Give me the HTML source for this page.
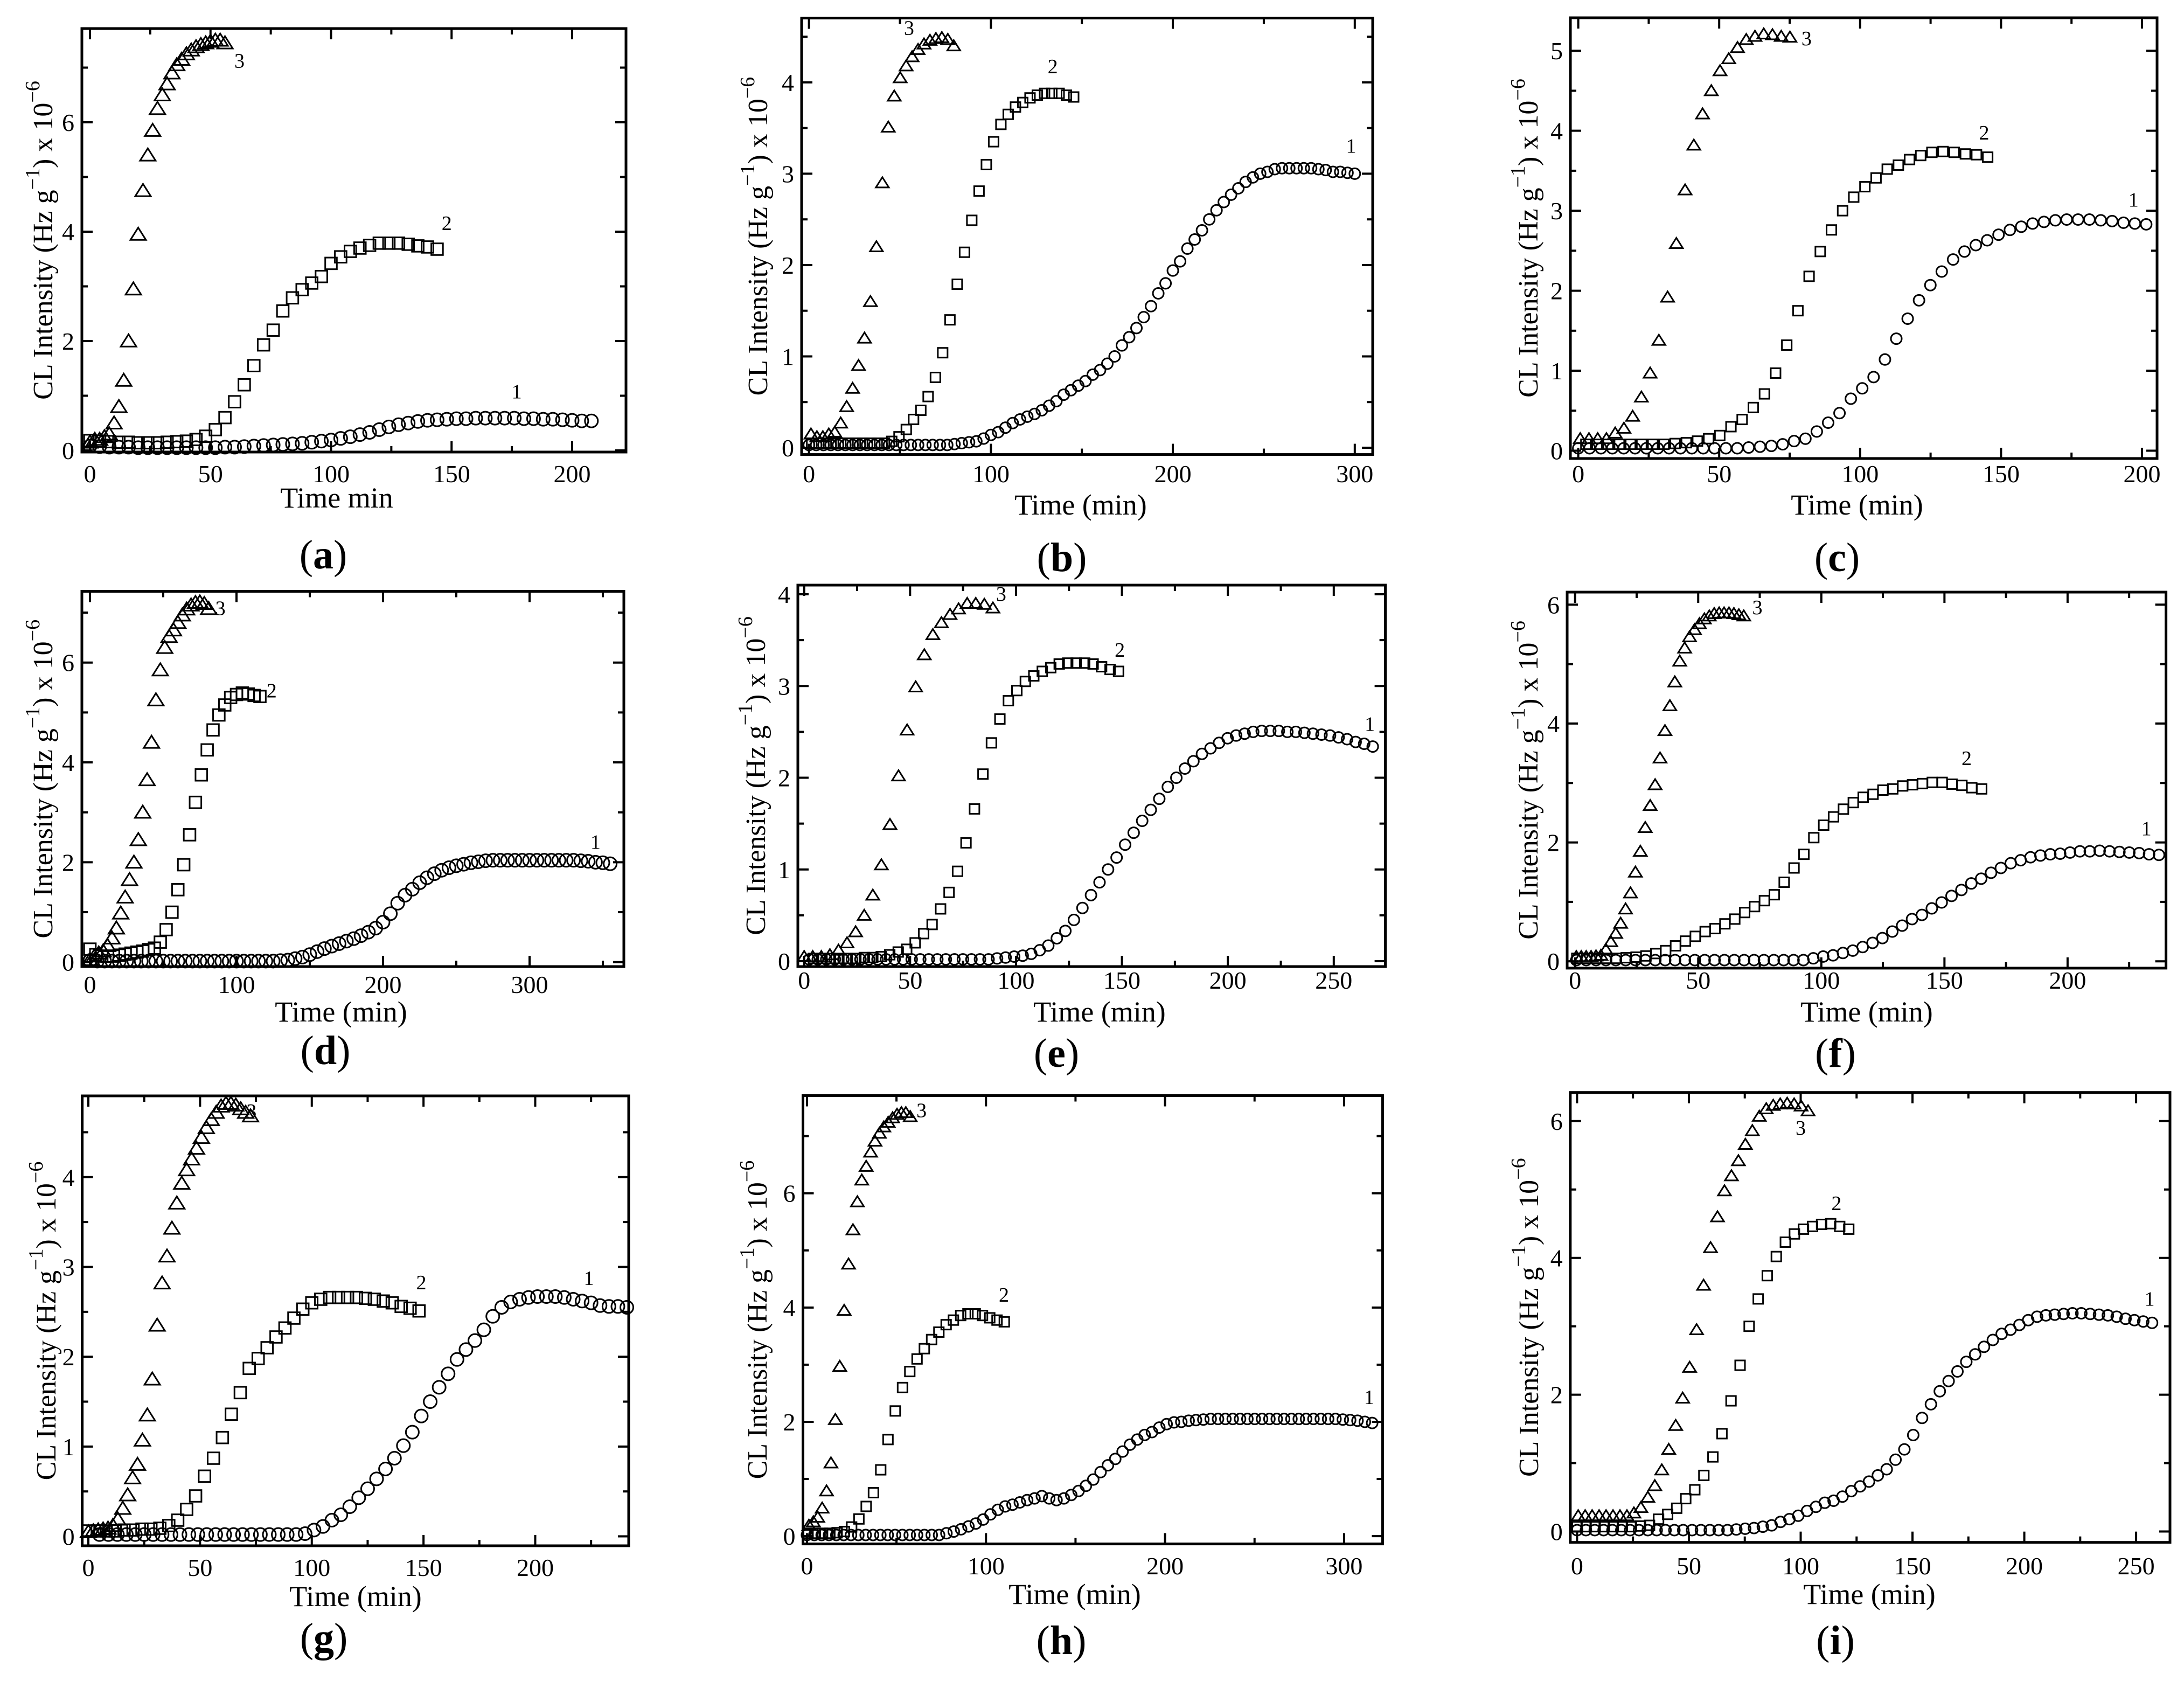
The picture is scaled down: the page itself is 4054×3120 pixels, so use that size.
<!DOCTYPE html>
<html><head><meta charset="utf-8"><style>
html,body{margin:0;padding:0;background:#fff;}
svg{display:block;}
text{font-family:"Liberation Serif",serif;fill:#000;}
</style></head>
<body>
<svg id="fig" width="4054" height="3120" viewBox="0 0 4054 3120" xmlns="http://www.w3.org/2000/svg">
<rect x="0" y="0" width="4054" height="3120" fill="#fff"/>
</svg>
<script>
// ---------- DATA (t = start + i*step, values in Hz g^-1 x 10^-6) ----------
// Panel a
const a3Start=0, a3Step=2;
const a3Values=[0.15,0.2,0.2,0.25,0.3,0.5,0.8,1.28,2.0,2.95,3.95,4.75,5.4,5.85,6.25,6.5,6.7,6.9,7.05,7.15,7.25,7.32,7.38,7.42,7.45,7.48,7.5,7.5,7.45];
const a2Start=0, a2Step=4;
const a2Values=[0.18,0.17,0.16,0.15,0.15,0.14,0.14,0.14,0.15,0.16,0.17,0.2,0.26,0.38,0.6,0.89,1.2,1.55,1.93,2.2,2.55,2.79,2.94,3.06,3.18,3.42,3.54,3.64,3.7,3.75,3.79,3.79,3.79,3.77,3.74,3.72,3.68];
const a1Start=0, a1Step=4;
const a1Values=[0.08,0.07,0.06,0.06,0.06,0.05,0.05,0.05,0.05,0.05,0.05,0.05,0.05,0.05,0.06,0.06,0.07,0.08,0.09,0.1,0.11,0.12,0.13,0.15,0.17,0.19,0.22,0.25,0.29,0.33,0.38,0.43,0.47,0.5,0.53,0.55,0.56,0.57,0.58,0.58,0.59,0.59,0.59,0.59,0.59,0.58,0.58,0.57,0.57,0.56,0.55,0.54,0.54];
// Panel b
const b3Start=1.1, b3Step=3.27;
const b3Values=[0.15,0.12,0.12,0.15,0.17,0.27,0.45,0.65,0.9,1.2,1.6,2.2,2.9,3.51,3.85,4.05,4.18,4.28,4.36,4.42,4.46,4.48,4.49,4.47,4.4];
const b2Start=1.5, b2Step=4;
const b2Values=[0.05,0.05,0.05,0.05,0.05,0.05,0.05,0.05,0.05,0.05,0.05,0.07,0.12,0.2,0.31,0.41,0.56,0.77,1.04,1.4,1.79,2.14,2.49,2.81,3.1,3.35,3.54,3.65,3.73,3.78,3.83,3.86,3.88,3.88,3.88,3.86,3.84];
const b1Start=0, b1Step=4;
const b1Values=[0.03,0.03,0.03,0.03,0.03,0.03,0.03,0.03,0.03,0.03,0.03,0.03,0.03,0.03,0.03,0.03,0.03,0.03,0.03,0.03,0.04,0.05,0.06,0.07,0.1,0.14,0.17,0.22,0.27,0.31,0.34,0.37,0.41,0.46,0.51,0.58,0.63,0.68,0.73,0.8,0.85,0.92,1.0,1.12,1.21,1.31,1.43,1.55,1.69,1.8,1.94,2.04,2.18,2.28,2.38,2.5,2.6,2.69,2.77,2.84,2.91,2.96,3.0,3.02,3.05,3.06,3.06,3.06,3.06,3.06,3.05,3.04,3.02,3.02,3.01,3.0];
// Panel c
const c3Start=0.7, c3Step=3.1;
const c3Values=[0.15,0.15,0.15,0.15,0.22,0.28,0.43,0.67,0.97,1.38,1.92,2.59,3.26,3.82,4.21,4.5,4.75,4.9,5.04,5.14,5.18,5.21,5.2,5.18,5.17];
const c2Start=2.7, c2Step=3.96;
const c2Values=[0.08,0.08,0.08,0.08,0.08,0.08,0.08,0.08,0.09,0.1,0.12,0.15,0.19,0.3,0.39,0.54,0.71,0.97,1.32,1.75,2.18,2.49,2.76,3.0,3.17,3.3,3.41,3.52,3.57,3.64,3.69,3.73,3.74,3.73,3.71,3.7,3.67];
const c1Start=0, c1Step=4.03;
const c1Values=[0.03,0.03,0.03,0.03,0.03,0.03,0.03,0.03,0.03,0.03,0.03,0.03,0.03,0.03,0.03,0.04,0.05,0.06,0.08,0.12,0.15,0.24,0.35,0.47,0.65,0.78,0.92,1.14,1.4,1.65,1.88,2.07,2.24,2.39,2.49,2.57,2.63,2.7,2.76,2.8,2.84,2.86,2.88,2.89,2.89,2.89,2.88,2.87,2.85,2.84,2.83];
// Panel d
const d3Start=0, d3Step=3;
const d3Values=[0.05,0.12,0.18,0.22,0.33,0.48,0.68,0.98,1.3,1.65,2.0,2.45,3.0,3.65,4.4,5.25,5.85,6.3,6.52,6.65,6.8,6.95,7.07,7.15,7.2,7.21,7.18,7.08];
const d2Start=0, d2Step=4;
const d2Values=[0.26,0.15,0.12,0.12,0.12,0.14,0.16,0.18,0.2,0.22,0.25,0.28,0.4,0.65,1.0,1.45,1.95,2.55,3.2,3.75,4.25,4.65,4.95,5.15,5.3,5.36,5.39,5.37,5.34,5.32];
const d1Start=0, d1Step=5;
const d1Values=[0.03,0.02,0.02,0.02,0.02,0.02,0.02,0.02,0.02,0.02,0.02,0.02,0.02,0.02,0.02,0.02,0.02,0.02,0.02,0.02,0.02,0.02,0.02,0.02,0.02,0.02,0.03,0.04,0.07,0.1,0.15,0.21,0.27,0.32,0.37,0.42,0.47,0.53,0.6,0.68,0.8,0.97,1.18,1.34,1.46,1.59,1.69,1.77,1.84,1.89,1.93,1.96,1.99,2.01,2.03,2.04,2.04,2.04,2.04,2.04,2.04,2.04,2.04,2.04,2.04,2.04,2.04,2.03,2.02,2.0,1.99,1.97];
// Panel e
const e3Start=0, e3Step=4.05;
const e3Values=[0.05,0.05,0.05,0.07,0.12,0.2,0.32,0.5,0.72,1.05,1.49,2.02,2.52,2.99,3.34,3.56,3.69,3.78,3.84,3.9,3.9,3.89,3.85];
const e2Start=4.4, e2Step=4;
const e2Values=[0.03,0.03,0.03,0.03,0.03,0.03,0.04,0.04,0.05,0.07,0.1,0.13,0.2,0.3,0.4,0.57,0.75,0.98,1.29,1.66,2.04,2.38,2.64,2.84,2.95,3.05,3.11,3.16,3.2,3.24,3.25,3.25,3.25,3.24,3.21,3.18,3.16];
const e1Start=2.4, e1Step=4.03;
const e1Values=[0.02,0.02,0.02,0.02,0.02,0.02,0.02,0.02,0.02,0.02,0.02,0.02,0.02,0.02,0.02,0.02,0.02,0.02,0.02,0.02,0.02,0.02,0.03,0.04,0.05,0.06,0.08,0.12,0.17,0.25,0.33,0.45,0.58,0.72,0.86,1.0,1.13,1.27,1.4,1.53,1.65,1.77,1.9,2.0,2.1,2.18,2.26,2.32,2.38,2.43,2.46,2.48,2.5,2.51,2.51,2.51,2.5,2.5,2.49,2.48,2.47,2.46,2.44,2.42,2.39,2.37,2.34];
// Panel f
const f3Start=0.5, f3Step=2.0;
const f3Values=[0.08,0.08,0.08,0.08,0.09,0.1,0.2,0.33,0.47,0.64,0.88,1.15,1.5,1.85,2.25,2.62,2.97,3.42,3.88,4.3,4.7,5.05,5.27,5.46,5.58,5.68,5.76,5.81,5.85,5.86,5.86,5.86,5.85,5.83,5.81];
const f2Start=0.7, f2Step=4.01;
const f2Values=[0.05,0.05,0.05,0.05,0.05,0.06,0.07,0.09,0.13,0.18,0.26,0.34,0.42,0.5,0.55,0.63,0.71,0.82,0.92,1.02,1.12,1.33,1.57,1.8,2.08,2.29,2.43,2.56,2.67,2.76,2.81,2.88,2.9,2.95,2.97,2.99,3.01,3.01,2.98,2.96,2.92,2.9];
const f1Start=0.5, f1Step=4.01;
const f1Values=[0.02,0.02,0.02,0.02,0.02,0.02,0.02,0.02,0.02,0.02,0.02,0.02,0.02,0.02,0.02,0.02,0.02,0.02,0.02,0.02,0.02,0.02,0.02,0.02,0.05,0.08,0.1,0.14,0.18,0.24,0.31,0.39,0.5,0.6,0.71,0.78,0.89,0.99,1.1,1.2,1.31,1.39,1.49,1.57,1.65,1.7,1.75,1.78,1.8,1.81,1.83,1.85,1.85,1.86,1.85,1.84,1.83,1.82,1.8,1.79];
// Panel g
const g3Start=0, g3Step=2.2;
const g3Values=[0.05,0.06,0.07,0.08,0.09,0.12,0.19,0.31,0.46,0.65,0.8,1.07,1.35,1.75,2.35,2.82,3.12,3.43,3.71,3.93,4.08,4.2,4.32,4.44,4.55,4.64,4.72,4.79,4.82,4.82,4.8,4.76,4.72,4.68];
const g2Start=0, g2Step=4;
const g2Values=[0.06,0.06,0.06,0.06,0.07,0.07,0.08,0.08,0.09,0.12,0.18,0.3,0.45,0.67,0.87,1.1,1.36,1.6,1.87,1.98,2.1,2.22,2.32,2.43,2.53,2.6,2.64,2.66,2.66,2.66,2.66,2.65,2.64,2.62,2.6,2.56,2.54,2.51];
const g1Start=5, g1Step=4;
const g1Values=[0.02,0.02,0.02,0.02,0.02,0.02,0.02,0.02,0.02,0.02,0.02,0.02,0.02,0.02,0.02,0.02,0.02,0.02,0.02,0.02,0.02,0.02,0.02,0.03,0.07,0.11,0.18,0.24,0.33,0.43,0.53,0.64,0.75,0.87,1.01,1.16,1.34,1.5,1.66,1.81,1.97,2.08,2.18,2.3,2.45,2.55,2.61,2.64,2.66,2.67,2.67,2.67,2.66,2.64,2.62,2.6,2.57,2.56,2.56,2.55];
// Panel h
const h3Start=1.1, h3Step=2.46;
const h3Values=[0.19,0.25,0.33,0.49,0.79,1.28,2.04,2.97,3.95,4.76,5.36,5.85,6.23,6.47,6.72,6.91,7.05,7.16,7.24,7.32,7.38,7.41,7.41,7.34];
const h2Start=0.6, h2Step=4.06;
const h2Values=[0.05,0.05,0.05,0.05,0.06,0.08,0.16,0.3,0.52,0.76,1.16,1.69,2.19,2.6,2.88,3.1,3.28,3.44,3.57,3.7,3.78,3.86,3.89,3.89,3.86,3.82,3.78,3.75];
const h1Start=0, h1Step=4.1;
const h1Values=[0.02,0.02,0.02,0.02,0.02,0.02,0.02,0.02,0.02,0.02,0.02,0.02,0.02,0.02,0.02,0.02,0.02,0.02,0.02,0.05,0.08,0.12,0.17,0.22,0.29,0.38,0.46,0.52,0.55,0.59,0.63,0.66,0.7,0.66,0.63,0.66,0.72,0.79,0.88,0.99,1.12,1.24,1.35,1.48,1.6,1.69,1.77,1.82,1.9,1.96,1.99,2.0,2.02,2.03,2.04,2.05,2.05,2.05,2.05,2.05,2.05,2.05,2.05,2.05,2.05,2.05,2.05,2.05,2.05,2.05,2.05,2.05,2.05,2.04,2.03,2.02,2.0,1.98];
// Panel i
const i3Start=0.5, i3Step=3.115;
const i3Values=[0.23,0.23,0.23,0.23,0.23,0.23,0.23,0.23,0.27,0.35,0.5,0.67,0.9,1.2,1.55,1.95,2.4,2.95,3.6,4.15,4.6,4.98,5.2,5.42,5.66,5.86,6.07,6.18,6.23,6.25,6.26,6.25,6.22,6.15];
const i2Start=0, i2Step=4.05;
const i2Values=[0.07,0.07,0.07,0.07,0.07,0.07,0.07,0.08,0.09,0.18,0.25,0.34,0.48,0.61,0.82,1.09,1.43,1.91,2.43,3.0,3.4,3.74,4.02,4.23,4.35,4.42,4.46,4.49,4.5,4.46,4.42];
const i1Start=0, i1Step=3.956;
const i1Values=[0.02,0.02,0.02,0.02,0.02,0.02,0.02,0.02,0.02,0.02,0.02,0.02,0.02,0.02,0.02,0.02,0.02,0.02,0.03,0.04,0.05,0.07,0.09,0.14,0.18,0.23,0.3,0.36,0.42,0.45,0.51,0.59,0.66,0.73,0.82,0.91,1.05,1.2,1.41,1.66,1.86,2.05,2.2,2.34,2.48,2.59,2.7,2.8,2.89,2.95,3.02,3.09,3.14,3.16,3.17,3.18,3.19,3.19,3.18,3.17,3.16,3.14,3.11,3.09,3.07,3.05];

// tick label arrays
const xTicksA=[0,50,100,150,200], yTicksA=[0,2,4,6];
const xTicksB=[0,100,200,300], yTicksB=[0,1,2,3,4];
const xTicksC=[0,50,100,150,200], yTicksC=[0,1,2,3,4,5];
const xTicksD=[0,100,200,300], yTicksD=[0,2,4,6];
const xTicksE=[0,50,100,150,200,250], yTicksE=[0,1,2,3,4];
const xTicksF=[0,50,100,150,200], yTicksF=[0,2,4,6];
const xTicksG=[0,50,100,150,200], yTicksG=[0,1,2,3,4];
const xTicksH=[0,100,200,300], yTicksH=[0,2,4,6];
const xTicksI=[0,50,100,150,200,250], yTicksI=[0,2,4,6];

// ---------- LAYOUT ----------
const panels=[
 {id:'a',box:[152,53,1162,839],xp:[0,167,200,1062],yp:[0,836,6,227],xt:xTicksA,yt:yTicksA,xm:25,ym:1,xtitle:'Time min',tb:895,xb:942,tx:625,yx:79,lx:600,ly:1055,r:12,
  s:[[a1Start,a1Step,a1Values],[a2Start,a2Step,a2Values],[a3Start,a3Step,a3Values]],lab:[[177,0.95],[148,4.03],[62,7.0]]},
 {id:'b',box:[1488,33.5,2548,843.6],xp:[0,1501.6,300,2514.8],yp:[0,831,4,152.9],xt:xTicksB,yt:yTicksB,xm:50,ym:0.5,xtitle:'Time (min)',tb:895,xb:955,tx:2006,yx:1406,lx:1971,ly:1060,r:10,
  s:[[b1Start,b1Step,b1Values],[b2Start,b2Step,b2Values],[b3Start,b3Step,b3Values]],lab:[[298,3.23],[134,4.1],[55,4.52]]},
 {id:'c',box:[2915,33,4004,851],xp:[0,2929.6,200,3976],yp:[0,836.5,5,94.2],xt:xTicksC,yt:yTicksC,xm:25,ym:0.5,xtitle:'Time (min)',tb:895,xb:955,tx:3447,yx:2836,lx:3410,ly:1060,r:10,
  s:[[c1Start,c1Step,c1Values],[c2Start,c2Step,c2Values],[c3Start,c3Step,c3Values]],lab:[[197,3.05],[144,3.89],[81,5.07]]},
 {id:'d',box:[152,1097.5,1158,1794],xp:[0,167,300,983],yp:[0,1785.7,6,1229.7],xt:xTicksD,yt:yTicksD,xm:50,ym:1,xtitle:'Time (min)',tb:1843,xb:1896,tx:633,yx:79,lx:604,ly:1975,r:12,
  s:[[d1Start,d1Step,d1Values],[d2Start,d2Step,d2Values],[d3Start,d3Step,d3Values]],lab:[[345,2.27],[124,5.3],[89,6.95]]},
 {id:'e',box:[1481,1086,2571.6,1794],xp:[0,1492.7,250,2475.8],yp:[0,1784,4,1103],xt:xTicksE,yt:yTicksE,xm:25,ym:0.5,xtitle:'Time (min)',tb:1835,xb:1896,tx:2041,yx:1402,lx:1961,ly:1980,r:10,
  s:[[e1Start,e1Step,e1Values],[e2Start,e2Step,e2Values],[e3Start,e3Step,e3Values]],lab:[[267,2.51],[149,3.32],[93,3.93]]},
 {id:'f',box:[2909,1099,4020.6,1796.9],xp:[0,2923.7,200,3837.9],yp:[0,1784.2,6,1122.3],xt:xTicksF,yt:yTicksF,xm:25,ym:1,xtitle:'Time (min)',tb:1835,xb:1896,tx:3465,yx:2836,lx:3407,ly:1980,r:10,
  s:[[f1Start,f1Step,f1Values],[f2Start,f2Step,f2Values],[f3Start,f3Step,f3Values]],lab:[[232,2.12],[159,3.3],[74,5.84]]},
 {id:'g',box:[152.6,2034,1167,2869],xp:[0,164,200,993.5],yp:[0,2851.5,4,2184.8],xt:xTicksG,yt:yTicksG,xm:25,ym:0.5,xtitle:'Time (min)',tb:2925,xb:2981,tx:660,yx:85,lx:601,ly:3065,r:12,
  s:[[g1Start,g1Step,g1Values],[g2Start,g2Step,g2Values],[g3Start,g3Step,g3Values]],lab:[[224,2.8],[149,2.75],[73,4.66]]},
 {id:'h',box:[1490.5,2033.5,2566.4,2865.6],xp:[0,1497.9,300,2494.9],yp:[0,2851.1,6,2214.7],xt:xTicksH,yt:yTicksH,xm:50,ym:1,xtitle:'Time (min)',tb:2922,xb:2977,tx:1995,yx:1405,lx:1970,ly:3070,r:10,
  s:[[h1Start,h1Step,h1Values],[h2Start,h2Step,h2Values],[h3Start,h3Step,h3Values]],lab:[[314,2.31],[110,4.1],[64,7.33]]},
 {id:'i',box:[2914.8,2027.7,4028,2862.7],xp:[0,2927.4,250,3965.1],yp:[0,2842.5,6,2080.8],xt:xTicksI,yt:yTicksI,xm:25,ym:1,xtitle:'Time (min)',tb:2922,xb:2977,tx:3470,yx:2837,lx:3407,ly:3070,r:10,
  s:[[i1Start,i1Step,i1Values],[i2Start,i2Step,i2Values],[i3Start,i3Step,i3Values]],lab:[[256,3.3],[116,4.7],[100,5.8]]}
];

const NS='http://www.w3.org/2000/svg';
const svg=document.getElementById('fig');
function mk(tag,attrs,parent){const e=document.createElementNS(NS,tag);for(const k in attrs)e.setAttribute(k,attrs[k]);(parent||svg).appendChild(e);return e;}
const seriesNames=['series-1-circles','series-2-squares','series-3-triangles'];

panels.forEach(p=>{
  const g=mk('g',{});
  
  
  const [x0,y0,x1,y1]=p.box;
  const sx=t=>p.xp[1]+(t-p.xp[0])*(p.xp[3]-p.xp[1])/(p.xp[2]-p.xp[0]);
  const sy=v=>p.yp[1]+(v-p.yp[0])*(p.yp[3]-p.yp[1])/(p.yp[2]-p.yp[0]);
  const tmin=p.xp[0]+(x0-p.xp[1])*(p.xp[2]-p.xp[0])/(p.xp[3]-p.xp[1]);
  const tmax=p.xp[0]+(x1-p.xp[1])*(p.xp[2]-p.xp[0])/(p.xp[3]-p.xp[1]);
  const vmin=p.yp[0]+(y1-p.yp[1])*(p.yp[2]-p.yp[0])/(p.yp[3]-p.yp[1]);
  const vmax=p.yp[0]+(y0-p.yp[1])*(p.yp[2]-p.yp[0])/(p.yp[3]-p.yp[1]);
  const tg=mk('g',{stroke:'#000','stroke-width':4},g);
  
  
  for(let t=Math.ceil(tmin/p.xm)*p.xm;t<=tmax;t+=p.xm){
    const X=sx(t);const major=p.xt.indexOf(Math.round(t*1000)/1000)>=0;const L=major?20:11;
    mk('line',{x1:X,y1:y1,x2:X,y2:y1-L},tg);mk('line',{x1:X,y1:y0,x2:X,y2:y0+L},tg);
  }
  for(let v=Math.ceil(vmin/p.ym)*p.ym;v<=vmax;v+=p.ym){
    const Y=sy(v);const major=p.yt.indexOf(Math.round(v*1000)/1000)>=0;const L=major?20:11;
    mk('line',{x1:x0,y1:Y,x2:x0+L,y2:Y},tg);mk('line',{x1:x1,y1:Y,x2:x1-L,y2:Y},tg);
  }
  p.xt.forEach(t=>{const e=mk('text',{x:sx(t),y:p.tb,'font-size':46,'text-anchor':'middle'},g);e.textContent=t;
    
    });
  p.yt.forEach(v=>{const e=mk('text',{x:x0-14,y:sy(v)+16,'font-size':46,'text-anchor':'end'},g);e.textContent=v;
    
    });
  p.s.forEach((s,si)=>{
    const sg=mk('g',{fill:'none',stroke:'#000','stroke-width':3},g);
    
    
    const r=p.r;
    s[2].forEach((v,i)=>{
      const X=sx(s[0]+i*s[1]),Y=sy(v);let m;
      if(si===0)m=mk('circle',{cx:X,cy:Y,r:r},sg);
      else if(si===1)m=mk('rect',{x:X-r*0.9,y:Y-r*0.9,width:r*1.8,height:r*1.8},sg);
      else m=mk('polygon',{points:(X)+','+(Y-r*1.05)+' '+(X-r*1.2)+','+(Y+r*0.85)+' '+(X+r*1.2)+','+(Y+r*0.85)},sg);
      
      
    });
    const lb=mk('text',{x:sx(p.lab[si][0]),y:sy(p.lab[si][1]),'font-size':38,'text-anchor':'middle'},g);
    lb.textContent=String(si+1);
    
    
  });
  const fr=mk('rect',{x:x0,y:y0,width:x1-x0,height:y1-y0,fill:'none',stroke:'#000','stroke-width':5},g);
  
  
  const xt=mk('text',{x:p.tx,y:p.xb,'font-size':54,'text-anchor':'middle'},g);xt.textContent=p.xtitle;
  
  
  const cy=(y0+y1)/2;
  const yt=mk('text',{x:0,y:0,'font-size':52,'text-anchor':'middle',transform:'translate('+(p.yx+18)+','+cy+') rotate(-90)'},g);
  
  
  yt.innerHTML='CL Intensity (Hz g<tspan dy="-24" font-size="38">\u22121</tspan><tspan dy="24">) x 10</tspan><tspan dy="-24" font-size="38">\u22126</tspan>';
  const pl=mk('text',{x:p.lx,y:p.ly,'font-size':76,'text-anchor':'middle'},g);
  pl.innerHTML='(<tspan font-weight="bold">'+p.id+'</tspan>)';
  
  
});
</script>
</body></html>
